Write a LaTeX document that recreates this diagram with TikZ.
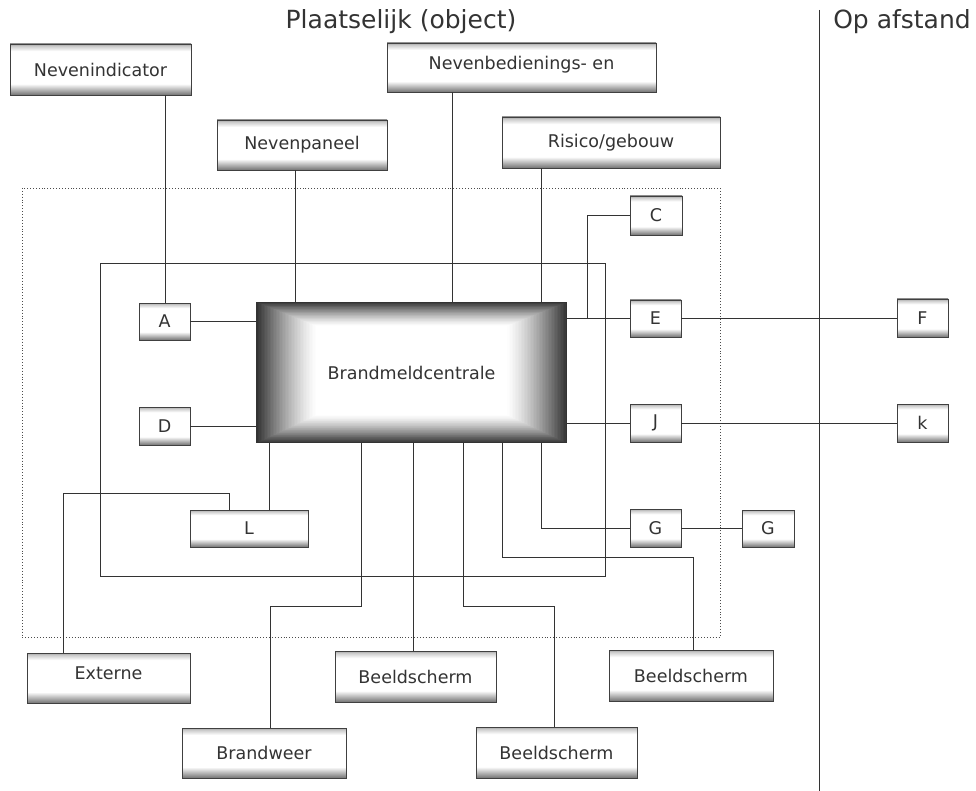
\documentclass[tikz,border=0pt]{standalone}
\usepackage{fontspec}
\setmainfont{DejaVu Sans}
\usetikzlibrary{calc}

% soft grey bands at top and bottom of each small box
\pgfdeclareverticalshading{boxshade}{100bp}{%
  color(0bp)=(black!55); color(25bp)=(black!55); color(29bp)=(black!35);
  color(36bp)=(white); color(68bp)=(white); color(73bp)=(black!20);
  color(75bp)=(black!35); color(100bp)=(black!35)}

\definecolor{ink}{HTML}{333333}

\tikzset{
  box/.style={draw=black!75, line width=0.7pt, shading=boxshade,
    text=ink, font=\fontsize{17.5}{20}\selectfont, inner sep=0pt},
  wire/.style={draw=black!80, line width=0.8pt},
  heading/.style={text=ink, font=\fontsize{25}{29}\selectfont},
}

\begin{document}
\begin{tikzpicture}[x=1pt, y=-1pt]
\useasboundingbox (0,0) rectangle (976,791);

% headings and the divider between local and remote
\node[heading] (tloc) at (401,22) {Plaatselijk (object)};
\node[heading] (trem) at (902,22) {Op afstand};
\draw[wire] (819,10) -- (819,791);

% object boundary and the ring line
\draw[black!70, line width=0.9pt, dotted] (22,188) rectangle (720,637);
\draw[wire] (100,263) rectangle (605,576);

% central panel with a darkened rim
\begin{scope}
  \foreach \i in {0,...,40}{
    \pgfmathsetmacro\t{\i/40}
    \pgfmathsetmacro\lv{80*(1-\t)^1.3}
    \fill[black!\lv] (256+\t*60, 302+\t*24) rectangle (567-\t*60, 443-\t*28);
  }
\end{scope}
\node[text=ink, font=\fontsize{17.5}{20}\selectfont, minimum width=311pt, minimum height=141pt, inner sep=0pt] (bmc) at (411.5,372.5) {Brandmeldcentrale};

% upper boxes
\node[box, minimum width=181pt, minimum height=51pt] (nevind) at (100.5,69.5) {Nevenindicator};
\node[box, minimum width=269pt, minimum height=49pt, text depth=10pt] (nevbed) at (521.5,67.5) {Nevenbedienings- en};
\node[box, minimum width=170pt, minimum height=50pt] (nevpan) at (302,145) {Nevenpaneel};
\node[box, minimum width=218pt, minimum height=51pt] (risico) at (611,142.5) {Risico/gebouw};

% small boxes around the panel
\node[box, minimum width=52pt, minimum height=39pt] (C) at (656,215.5) {C};
\node[box, minimum width=51pt, minimum height=37pt] (A) at (164.5,321.5) {A};
\node[box, minimum width=51pt, minimum height=38pt] (D) at (164.5,426) {D};
\node[box, minimum width=118pt, minimum height=37pt] (L) at (249,528.5) {L};
\node[box, minimum width=51pt, minimum height=37pt] (E) at (655.5,318.5) {E};
\node[box, minimum width=51pt, minimum height=38pt] (J) at (655.5,423) {J};
\node[box, minimum width=51pt, minimum height=38pt] (G1) at (655.5,528) {G};
\node[box, minimum width=52pt, minimum height=37pt] (G2) at (768,528.5) {G};
\node[box, minimum width=51pt, minimum height=38pt] (F) at (922.5,318) {F};
\node[box, minimum width=51pt, minimum height=38pt] (k) at (922.5,423) {k};

% lower boxes
\node[box, minimum width=163pt, minimum height=50pt, text depth=9pt] (ext) at (108.5,678) {Externe};
\node[box, minimum width=164pt, minimum height=50pt] (bw) at (264,753) {Brandweer};
\node[box, minimum width=161pt, minimum height=51pt] (bsm) at (415.5,676.5) {Beeldscherm};
\node[box, minimum width=164pt, minimum height=51pt] (bsr) at (691,675.5) {Beeldscherm};
\node[box, minimum width=161pt, minimum height=51pt] (bsb) at (556.5,752.5) {Beeldscherm};

% connectors from above
\draw[wire] (165,0 |- nevind.south) -- (165,0 |- A.north);
\draw[wire] (295,0 |- nevpan.south) -- (295,0 |- bmc.north);
\draw[wire] (452,0 |- nevbed.south) -- (452,0 |- bmc.north);
\draw[wire] (541,0 |- risico.south) -- (541,0 |- bmc.north);

% left side
\draw[wire] (A.east) -- (A.east -| bmc.west);
\draw[wire] (D.east) -- (D.east -| bmc.west);

% right side
\draw[wire] (bmc.east |- E.west) -- (E.west);
\draw[wire] (E.east) -- (E.east -| F.west);
\draw[wire] (C.west) -| (587,0 |- E.west);
\draw[wire] (bmc.east |- J.west) -- (J.west);
\draw[wire] (J.east) -- (J.east -| k.west);
\draw[wire] (541,0 |- bmc.south) |- (G1.west);
\draw[wire] (G1.east) -- (G1.east -| G2.west);

% downward connectors
\draw[wire] (269,0 |- bmc.south) -- (269,0 |- L.north);
\draw[wire] (229,0 |- L.north) -- (229,493) -| (63,0 |- ext.north);
\draw[wire] (361,0 |- bmc.south) -- (361,606) -| (270,0 |- bw.north);
\draw[wire] (413,0 |- bmc.south) -- (413,0 |- bsm.north);
\draw[wire] (463,0 |- bmc.south) -- (463,606) -| (554,0 |- bsb.north);
\draw[wire] (502,0 |- bmc.south) -- (502,557) -| (693,0 |- bsr.north);
\end{tikzpicture}
\end{document}
